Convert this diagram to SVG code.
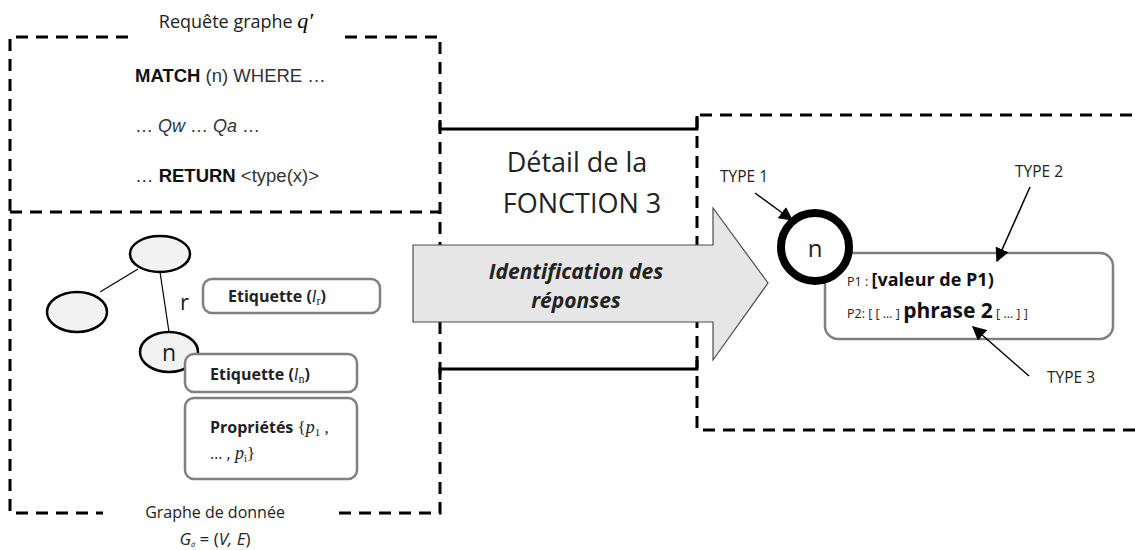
<svg xmlns="http://www.w3.org/2000/svg" width="1135" height="550" viewBox="0 0 1135 550">
<style>
  .dash { fill: none; stroke: #000; stroke-width: 3; stroke-dasharray: 12 8; }
  .solid { fill: none; stroke: #000; stroke-width: 3; }
  .node { fill: #f2f2f2; stroke: #000; stroke-width: 2.5; }
  .edge { stroke: #000; stroke-width: 1.2; }
  .lbl { fill: #fff; stroke: #808080; stroke-width: 2.5; }
  .os { font-family: "Open Sans", "Liberation Sans", sans-serif; fill: #222; }
  .ls { font-family: "Liberation Sans", Arial, sans-serif; fill: #333; }
  .math { font-family: "Liberation Serif", "DejaVu Serif", serif; font-style: italic; }
  .up { font-family: "Liberation Serif", "DejaVu Serif", serif; font-style: normal; }
  .ptr { stroke: #000; stroke-width: 1.5; fill: none; }
</style>
<defs>
  <marker id="ah" viewBox="0 0 10 10" refX="9" refY="5" markerWidth="14" markerHeight="14" markerUnits="userSpaceOnUse" orient="auto">
    <path d="M0,0 L10,5 L0,10 z" fill="#000"/>
  </marker>
</defs>
<rect width="1135" height="550" fill="#fff"/>

<!-- Left dashed container (query + data graph) -->
<g id="query-box">
  <path class="dash" d="M128,37 H10 V513 H103"/>
  <path class="dash" d="M345,37 H440 V513 H333"/>
  <path class="dash" d="M10,212 H440"/>
  <text class="os" x="236" y="28" font-size="18" text-anchor="middle">Requête graphe <tspan class="math" font-size="22" fill="#000">q′</tspan></text>
  <text class="ls" x="135" y="82" font-size="18.5"><tspan font-weight="bold" fill="#111">MATCH</tspan> (n) WHERE …</text>
  <text class="ls" x="135" y="132" font-size="18">… <tspan font-style="italic">Qw</tspan> … <tspan font-style="italic">Qa</tspan> …</text>
  <text class="ls" x="135" y="182" font-size="18.5">…   <tspan font-weight="bold" fill="#111">RETURN</tspan> &lt;type(x)&gt;</text>
</g>

<!-- Function detail frame -->
<g id="function-box">
  <path class="dash" d="M697,116 V430 H1140"/>
  <path class="dash" d="M700,115 H1140"/>
  <text class="os" x="577" y="172" font-size="27" text-anchor="middle" fill="#222">Détail de la</text>
  <text class="os" x="582" y="213" font-size="27" text-anchor="middle" fill="#222">FONCTION 3</text>
</g>

<g id="node-top"><ellipse class="node" cx="160" cy="254" rx="30" ry="18"/></g>
<g id="node-left"><ellipse class="node" cx="77" cy="312" rx="30" ry="20"/></g>
<g id="node-n">
  <ellipse class="node" cx="169" cy="352" rx="29" ry="20"/>
  <text class="os" x="169" y="361" font-size="23" text-anchor="middle">n</text>
</g>
<g id="edge-label-r">
  <text class="os" x="180" y="310" font-size="22">r</text>
</g>
<g id="label-lr">
  <rect class="lbl" x="203" y="279" width="177" height="34" rx="9"/>
  <text class="os" x="228" y="302" font-size="16" font-weight="bold" fill="#111">Etiquette (<tspan class="math" font-weight="normal" font-size="17">l</tspan><tspan class="up" font-weight="normal" font-size="12" dy="3">r</tspan><tspan dy="-3">)</tspan></text>
</g>
<g id="label-ln">
  <rect class="lbl" x="185" y="354" width="172" height="38" rx="9"/>
  <text class="os" x="210" y="380" font-size="16" font-weight="bold" fill="#111">Etiquette (<tspan class="math" font-weight="normal" font-size="17">l</tspan><tspan class="up" font-weight="normal" font-size="12" dy="3">n</tspan><tspan dy="-3">)</tspan></text>
</g>
<g id="props">
  <rect class="lbl" x="185" y="398" width="172" height="81" rx="9"/>
  <text class="os" x="210" y="433" font-size="16" font-weight="bold" fill="#111">Propriétés <tspan class="up" font-weight="normal" font-size="17">{</tspan><tspan class="math" font-weight="normal" font-size="18">p</tspan><tspan class="up" font-weight="normal" font-size="11" dy="3">1</tspan><tspan class="up" font-weight="normal" font-size="17" dy="-3"> ,</tspan></text>
  <text class="os" x="210" y="459" font-size="16" fill="#111">… , <tspan class="math" font-size="18">p</tspan><tspan class="up" font-size="11" dy="3">i</tspan><tspan class="up" font-size="17" dy="-3">}</tspan></text>
</g>
<g id="graph-caption">
  <text class="os" x="215" y="518" font-size="16" text-anchor="middle">Graphe de donnée</text>
  <text class="os" x="215" y="545" font-size="17" text-anchor="middle" font-style="italic">G<tspan font-size="7" dy="2">d</tspan><tspan dy="-2" font-style="normal"> = (</tspan>V, E<tspan font-style="normal">)</tspan></text>
</g>

<!-- Big arrow -->
<g id="arrow-identification">
  <polygon points="413,245 713,245 713,208 768,283 713,360 713,322 413,322" fill="#e6e6e6" stroke="#4d4d4d" stroke-width="1.2"/>
  <text class="os" x="576" y="279" font-size="21" font-weight="bold" font-style="italic" text-anchor="middle" fill="#222">Identification des</text>
  <text class="os" x="576" y="308" font-size="21" font-weight="bold" font-style="italic" text-anchor="middle" fill="#222">réponses</text>
</g>

<!-- Result node with property box -->
<g id="result-props">
  <rect class="lbl" x="825" y="253" width="288" height="86" rx="13"/>
  <text class="os" x="847" y="286" font-size="12.5" fill="#222">P1 : <tspan font-size="18" font-weight="bold" fill="#111">[valeur de P1)</tspan></text>
  <text class="os" x="847" y="318" font-size="12.5" fill="#222">P2: [ [ … ] <tspan font-size="21" font-weight="bold" fill="#111">phrase 2</tspan> [ … ] ]</text>
</g>
<g id="result-node">
  <circle cx="815" cy="247" r="34" fill="#fff" stroke="#000" stroke-width="8"/>
  <text class="os" x="815" y="257" font-size="24" text-anchor="middle">n</text>
</g>
<g id="type-labels">
  <text class="os" x="720" y="182" font-size="15.5" fill="#222">TYPE 1</text>
  <text class="os" x="1015" y="177" font-size="15.5" fill="#222">TYPE 2</text>
  <text class="os" x="1047" y="383" font-size="15.5" fill="#222">TYPE 3</text>
</g>

<g id="connectors">
  <line class="edge" x1="138" y1="269" x2="100" y2="292"/>
  <line class="edge" x1="160" y1="272" x2="169" y2="332"/>
  <path class="solid" d="M440,120 V129 H697 V118"/>
  <path class="solid" d="M440,380 V369 H697 V360"/>
  <line class="ptr" x1="755" y1="193" x2="792" y2="220" marker-end="url(#ah)"/>
  <line class="ptr" x1="1030" y1="187" x2="997" y2="261" marker-end="url(#ah)"/>
  <line class="ptr" x1="1029" y1="376" x2="973" y2="327" marker-end="url(#ah)"/>
</g>
</svg>
